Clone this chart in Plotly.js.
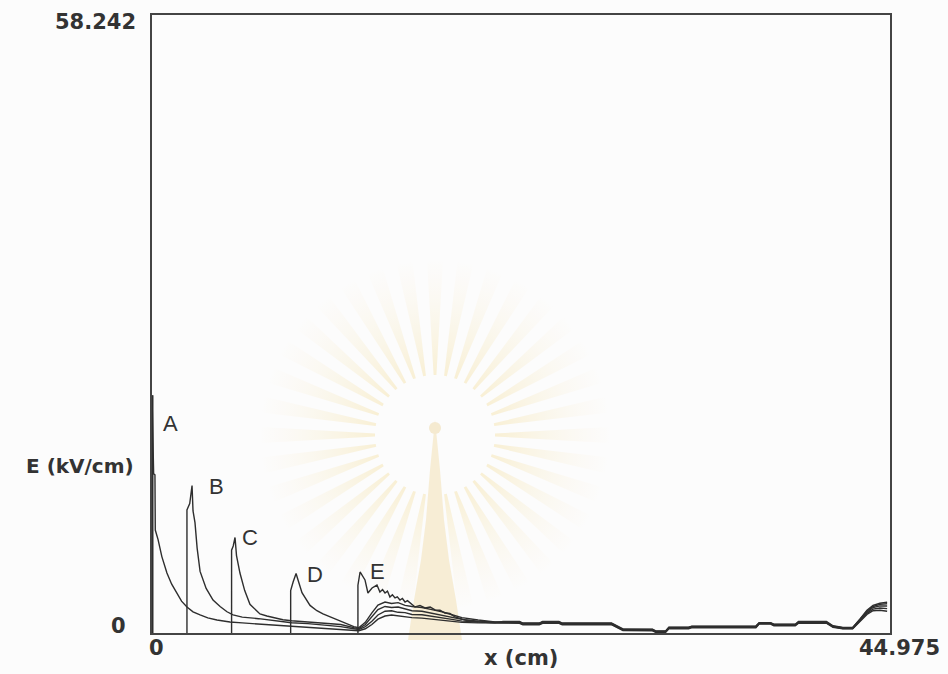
<!DOCTYPE html>
<html>
<head>
<meta charset="utf-8">
<script src="https://cdn.plot.ly/plotly-3.0.1.min.js"></script>
<style>html,body{margin:0;padding:0;background:#fcfcfc;}#chart{width:948px;height:674px;}</style>
</head>
<body>
<div id="chart"></div>
<script>
// Heads of each curve (x in cm, E in kV/cm)
const headA_x = [0, 0, 0.1, 0.18, 0.2, 0.37, 0.6, 0.91, 1.2, 1.52, 1.8, 2.13, 2.5, 2.93, 3.4, 3.96, 4.75, 5.5, 6.5, 7.5, 8.5, 9.5, 10.5, 11.5, 12.3];
const headA_y = [0, 22.4, 15.0, 14.9, 9.7, 8.8, 7.2, 5.65, 4.6, 3.77, 3.0, 2.45, 2.0, 1.7, 1.42, 1.23, 1.04, 0.95, 0.85, 0.74, 0.64, 0.55, 0.48, 0.35, 0.25];

const headB_x = [2.13, 2.13, 2.3, 2.44, 2.5, 2.62, 2.75, 2.93, 3.3, 3.72, 4.15, 4.57, 4.94, 5.5, 6.5, 7.5, 8.5, 9.5, 10.5, 11.5, 12.3];
const headB_y = [0, 11.6, 12.2, 13.9, 11.5, 10.4, 8.0, 5.8, 4.2, 3.1, 2.5, 2.0, 1.7, 1.5, 1.35, 1.15, 0.97, 0.88, 0.76, 0.6, 0.4];

const headC_x = [4.85, 4.85, 4.95, 5.06, 5.15, 5.36, 5.65, 5.97, 6.58, 7.0, 7.98, 8.5, 9.5, 10.5, 11.5, 12.3];
const headC_y = [0, 7.8, 8.2, 9.0, 7.3, 5.65, 4.0, 2.7, 1.8, 1.6, 1.25, 1.15, 1.04, 0.94, 0.8, 0.5];

const headD_x = [8.45, 8.45, 8.6, 8.78, 8.9, 9.14, 9.63, 10.05, 10.42, 11.03, 11.5, 11.88, 12.3];
const headD_y = [0, 4.0, 4.8, 5.6, 5.0, 3.8, 2.6, 2.1, 1.8, 1.4, 1.05, 0.85, 0.6];

const headE_x = [12.55, 12.55, 12.68, 12.98, 13.16, 13.41, 13.71, 13.89, 14.05, 14.2, 14.35, 14.5, 14.65, 14.81, 14.95, 15.11, 15.26, 15.42, 15.57, 15.72, 16.03, 16.33, 16.64, 16.95, 17.25, 17.55, 17.85, 18.15, 18.46, 19.07, 19.87, 20.9];
const headE_y = [0, 4.5, 5.75, 5.0, 3.77, 4.24, 4.52, 3.86, 4.1, 3.77, 3.95, 3.39, 3.6, 3.30, 3.4, 3.11, 3.25, 2.92, 3.05, 2.83, 2.45, 2.6, 2.36, 2.45, 2.17, 2.15, 1.88, 1.85, 1.51, 1.23, 1.04, 0.98];

// Shared tail positions for curves A-D
const tailX = [12.6, 13.0, 13.4, 13.77, 14.2, 14.6, 15.0, 15.42, 15.84, 16.45, 17.06, 17.67, 18.28, 18.89, 19.87, 20.9, 21.4, 22.4, 22.6, 23.6, 23.8, 24.8, 25.0, 28.0, 28.7, 30.5, 30.7, 31.3, 31.5, 32.7, 32.9, 36.8, 37.0, 37.7, 37.9, 39.2, 39.4, 41.1, 41.5, 42.1, 42.7, 43.14, 43.57, 43.94, 44.36, 44.8];
const tailA = [0.22, 0.4, 0.8, 1.3, 1.6, 1.7, 1.6, 1.55, 1.45, 1.4, 1.3, 1.2, 1.1, 1.0, 0.95, 0.92, 0.92, 0.92, 0.78, 0.78, 0.92, 0.92, 0.78, 0.78, 0.23, 0.21, 0.07, 0.07, 0.4, 0.4, 0.5, 0.5, 0.84, 0.84, 0.68, 0.68, 0.92, 0.92, 0.53, 0.39, 0.39, 1.1, 1.75, 2.1, 2.15, 2.05];
const tailB = [0.32, 0.6, 1.1, 1.7, 2.05, 2.1, 1.95, 1.92, 1.75, 1.72, 1.55, 1.45, 1.28, 1.12, 1.02, 0.97, 0.96, 0.96, 0.82, 0.82, 0.96, 0.96, 0.82, 0.82, 0.27, 0.25, 0.1, 0.1, 0.44, 0.44, 0.54, 0.54, 0.88, 0.88, 0.72, 0.72, 0.96, 0.96, 0.57, 0.43, 0.43, 1.15, 1.85, 2.25, 2.35, 2.3];
const tailC = [0.4, 0.8, 1.5, 2.2, 2.5, 2.4, 2.45, 2.25, 2.1, 2.05, 1.85, 1.72, 1.5, 1.28, 1.12, 1.0, 1.0, 1.0, 0.86, 0.86, 1.0, 1.0, 0.86, 0.86, 0.31, 0.29, 0.13, 0.13, 0.48, 0.48, 0.58, 0.58, 0.92, 0.92, 0.76, 0.76, 1.0, 1.0, 0.61, 0.47, 0.47, 1.2, 1.95, 2.4, 2.55, 2.55];
const tailD = [0.5, 1.0, 1.9, 2.64, 2.92, 2.78, 2.86, 2.6, 2.5, 2.4, 2.2, 2.0, 1.72, 1.45, 1.22, 1.05, 1.05, 1.05, 0.9, 0.9, 1.05, 1.05, 0.9, 0.9, 0.35, 0.33, 0.16, 0.16, 0.52, 0.52, 0.62, 0.62, 0.95, 0.95, 0.8, 0.8, 1.05, 1.05, 0.65, 0.5, 0.5, 1.25, 2.05, 2.5, 2.7, 2.75];
const tailE = [1.08, 1.08, 0.94, 0.94, 1.08, 1.08, 0.94, 0.94, 0.38, 0.36, 0.19, 0.19, 0.55, 0.55, 0.65, 0.65, 0.98, 0.98, 0.83, 0.83, 1.08, 1.08, 0.68, 0.53, 0.53, 1.3, 2.15, 2.6, 2.8, 2.9];

const curveNames = ['A', 'B', 'C', 'D', 'E'];
const labelX = [1.10, 3.9, 5.97, 9.93, 13.77];
const labelY = [19.7, 13.8, 9.0, 5.5, 5.75];

const xRange = [0, 44.975];
const yRange = [0, 58.242];

const series = [
  {x: headA_x.concat(tailX), y: headA_y.concat(tailA)},
  {x: headB_x.concat(tailX), y: headB_y.concat(tailB)},
  {x: headC_x.concat(tailX), y: headC_y.concat(tailC)},
  {x: headD_x.concat(tailX), y: headD_y.concat(tailD)},
  {x: headE_x.concat(tailX.slice(16)), y: headE_y.concat(tailE)}
];

const lineColor = '#2e2e2e';
const traces = series.map((s, i) => ({
  type: 'scatter', mode: 'lines', name: curveNames[i],
  x: s.x, y: s.y,
  line: {color: lineColor, width: 1.4},
  hoverinfo: 'skip'
}));
// thicker spike for A at x = 0
traces.push({type: 'scatter', mode: 'lines', x: headA_x.slice(0, 2), y: headA_y.slice(0, 2),
  line: {color: lineColor, width: 3}, hoverinfo: 'skip'});

// Faint background emblem (scanned watermark), drawn as an SVG image behind the plot
function watermarkSVG() {
  const cx = 435, cy = 435, r1 = 60, r2 = 175;
  let s = '<svg xmlns="http://www.w3.org/2000/svg" width="948" height="674" viewBox="0 0 948 674">';
  s += '<defs><radialGradient id="g" cx="' + cx + '" cy="' + cy + '" r="' + r2 + '" gradientUnits="userSpaceOnUse">' +
       '<stop offset="0.3" stop-color="#f6e2a6" stop-opacity="1"/>' +
       '<stop offset="1" stop-color="#fbf1d2" stop-opacity="0"/></radialGradient></defs>';
  for (let a = 0; a < 360; a += 10) {
    const rad = a * Math.PI / 180;
    const w1 = 1.3 * Math.PI / 180, w2 = 2.6 * Math.PI / 180;
    const pts = [
      [cx + r1 * Math.cos(rad - w1), cy + r1 * Math.sin(rad - w1)],
      [cx + r2 * Math.cos(rad - w2), cy + r2 * Math.sin(rad - w2)],
      [cx + r2 * Math.cos(rad + w2), cy + r2 * Math.sin(rad + w2)],
      [cx + r1 * Math.cos(rad + w1), cy + r1 * Math.sin(rad + w1)]
    ].map(p => p[0].toFixed(1) + ',' + p[1].toFixed(1)).join(' ');
    s += '<polygon points="' + pts + '" fill="url(#g)"/>';
  }
  s += '<polygon points="435,420 440,470 444,520 449,560 456,600 462,640 408,640 414,600 421,560 426,520 430,470" fill="#f3e0b0"/>';
  s += '<circle cx="435" cy="428" r="6" fill="#efd9a6"/>';
  s += '</svg>';
  return 'data:image/svg+xml;charset=utf-8,' + encodeURIComponent(s);
}

const annFontBold = {family: 'DejaVu Sans, sans-serif', size: 21, color: '#333'};
const letterFont = {family: 'Liberation Sans, Arial, sans-serif', size: 22, color: '#333'};

const annotations = curveNames.map((n, i) => ({
  x: labelX[i], y: labelY[i], xref: 'x', yref: 'y', text: n, showarrow: false,
  font: letterFont, xanchor: 'center', yanchor: 'middle'
}));

annotations.push(
  {xref: 'paper', yref: 'paper', x: 0, y: 1, text: '<b>' + yRange[1].toFixed(3) + '</b>', showarrow: false,
   xanchor: 'right', yanchor: 'middle', xshift: -14, yshift: -7, font: annFontBold},
  {xref: 'paper', yref: 'paper', x: 0, y: 0, text: '<b>0</b>', showarrow: false,
   xanchor: 'right', yanchor: 'middle', xshift: -24, yshift: 7, font: annFontBold},
  {xref: 'paper', yref: 'paper', x: 0, y: 0.27, text: '<b>E (kV/cm)</b>', showarrow: false,
   xanchor: 'right', yanchor: 'middle', xshift: -16, font: {family: 'DejaVu Sans, sans-serif', size: 20, color: '#333'}},
  {xref: 'paper', yref: 'paper', x: 0, y: 0, text: '<b>0</b>', showarrow: false,
   xanchor: 'center', yanchor: 'middle', xshift: 4, yshift: -15, font: annFontBold},
  {xref: 'paper', yref: 'paper', x: 1, y: 0, text: '<b>' + xRange[1].toFixed(3) + '</b>', showarrow: false,
   xanchor: 'left', yanchor: 'middle', xshift: -33, yshift: -15, font: annFontBold},
  {xref: 'paper', yref: 'paper', x: 0.5, y: 0, text: '<b>x (cm)</b>', showarrow: false,
   xanchor: 'center', yanchor: 'middle', yshift: -25, font: {family: 'DejaVu Sans, sans-serif', size: 21, color: '#333'}}
);

const axisCommon = {
  showgrid: false, zeroline: false, showticklabels: false, ticks: '',
  showline: true, mirror: true, linecolor: '#444', linewidth: 2, fixedrange: true
};

const layout = {
  width: 948, height: 674,
  margin: {l: 152, r: 58, t: 15, b: 41},
  paper_bgcolor: '#fcfcfc', plot_bgcolor: 'rgba(0,0,0,0)',
  showlegend: false,
  xaxis: Object.assign({range: xRange}, axisCommon),
  yaxis: Object.assign({range: yRange}, axisCommon),
  annotations: annotations,
  images: [{
    source: watermarkSVG(), xref: 'paper', yref: 'paper',
    x: -152 / 738, y: 1 + 15 / 618, sizex: 948 / 738, sizey: 674 / 618,
    sizing: 'stretch', xanchor: 'left', yanchor: 'top', layer: 'below', opacity: 0.5
  }]
};

Plotly.newPlot('chart', traces, layout, {staticPlot: true, displayModeBar: false});
</script>
</body>
</html>
